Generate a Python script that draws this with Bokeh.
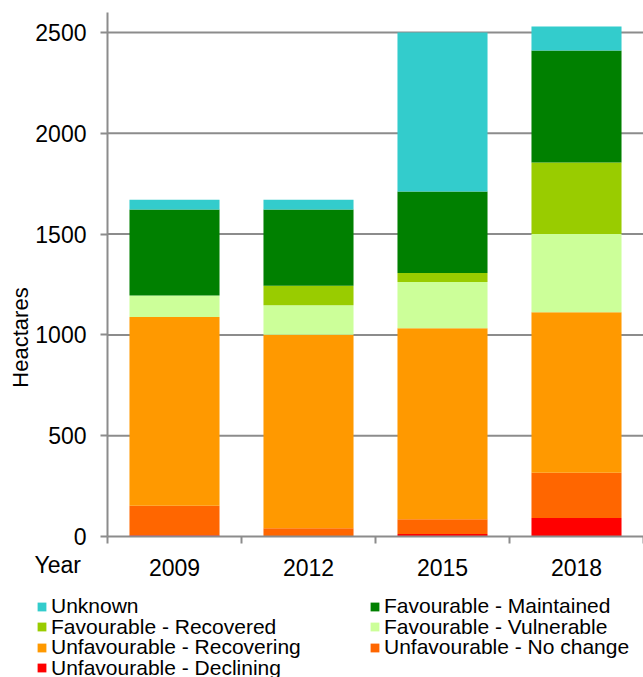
import math
from bokeh.plotting import figure
from bokeh.models import (ColumnDataSource, Range1d, FixedTicker, Legend, LegendItem, Label)
from bokeh.embed import file_html
from bokeh.resources import INLINE

# ---- data ----
years = ["2009", "2012", "2015", "2018"]
declining = [6, 0, 13, 92]
no_change = [146, 41, 73, 224]
recovering = [937, 960, 947, 796]
vulnerable = [106, 146, 230, 389]
recovered = [0, 97, 44, 354]
maintained = [427, 378, 404, 556]
unknown = [48, 48, 789, 119]
y_ticks = [0, 500, 1000, 1500, 2000, 2500]

series_keys = ["declining", "no_change", "recovering", "vulnerable", "recovered", "maintained", "unknown"]
series_names = ["Unfavourable - Declining", "Unfavourable - No change", "Unfavourable - Recovering",
                "Favourable - Vulnerable", "Favourable - Recovered", "Favourable - Maintained", "Unknown"]
colors = ["#FF0000", "#FF6600", "#FF9900", "#CCFF99", "#99CC00", "#008000", "#33CCCC"]

xpos = [i + 0.5 for i in range(len(years))]
source = ColumnDataSource(dict(x=xpos, declining=declining, no_change=no_change, recovering=recovering,
                               vulnerable=vulnerable, recovered=recovered, maintained=maintained,
                               unknown=unknown))

FONT = "Liberation Sans"
GRAY = "#8C8C8C"
W, H = 643, 677
AX_X, AX_Y = 107, 536          # screen position of the axes corner
CAT_PX = 134                   # pixels per category
Y_PX = 504 / 2500              # pixels per hectare

x_range = Range1d(-AX_X / CAT_PX, (W - AX_X) / CAT_PX)
y_range = Range1d(-(H - AX_Y) / Y_PX, AX_Y / Y_PX)

p = figure(width=W, height=H, output_backend="svg", toolbar_location=None,
           x_range=x_range, y_range=y_range,
           min_border_left=0, min_border_right=0, min_border_top=0, min_border_bottom=0)
p.outline_line_color = None
p.background_fill_color = "white"
p.xgrid.grid_line_color = None
p.ygrid.grid_line_color = None

# horizontal gridlines (from the tick list), under the bars
grid_y = y_ticks[1:]
p.segment(x0=[0] * len(grid_y), x1=[len(years)] * len(grid_y), y0=grid_y, y1=grid_y,
          line_color=GRAY, line_width=2)

renderers = p.vbar_stack(series_keys, x="x", width=0.672, color=colors, line_color=None, source=source)

# axes pinned at the data origin
p.xaxis.fixed_location = 0
p.xaxis.bounds = (0, len(years))
p.xaxis.ticker = FixedTicker(ticks=xpos, minor_ticks=list(range(len(years) + 1)))
p.xaxis.major_label_overrides = {x: y for x, y in zip(xpos, years)}
p.xaxis.major_tick_line_color = None
p.xaxis.minor_tick_line_color = GRAY
p.xaxis.minor_tick_line_width = 2
p.xaxis.minor_tick_out = 7
p.xaxis.minor_tick_in = 0
p.xaxis.major_label_standoff = 15
p.xaxis.axis_line_color = GRAY
p.xaxis.axis_line_width = 2
p.xaxis.major_label_text_font = FONT
p.xaxis.major_label_text_font_size = "23px"
p.xaxis.major_label_text_color = "black"

p.yaxis.fixed_location = 0
p.yaxis.bounds = (0, 2599)
p.yaxis.ticker = FixedTicker(ticks=y_ticks, minor_ticks=[])
p.yaxis.major_tick_line_color = GRAY
p.yaxis.major_tick_line_width = 2
p.yaxis.major_tick_out = 7
p.yaxis.major_tick_in = 0
p.yaxis.minor_tick_line_color = None
p.yaxis.major_label_standoff = 14
p.yaxis.axis_line_color = GRAY
p.yaxis.axis_line_width = 2
p.yaxis.major_label_text_font = FONT
p.yaxis.major_label_text_font_size = "23px"
p.yaxis.major_label_text_color = "black"

# axis titles (screen units, from the frame's bottom-left)
p.add_layout(Label(x=20, y=H - 337, x_units="screen", y_units="screen", text="Heactares",
                   angle=math.pi / 2, text_align="center", text_baseline="middle",
                   text_font=FONT, text_font_size="22px", text_color="black"))
p.add_layout(Label(x=34, y=H - 564, x_units="screen", y_units="screen", text="Year",
                   text_align="left", text_baseline="middle",
                   text_font=FONT, text_font_size="23px", text_color="black"))

# legend: two columns in Excel order, one entry per Legend for exact placement
by_name = dict(zip(series_names, renderers))
col1 = ["Unknown", "Favourable - Recovered", "Unfavourable - Recovering", "Unfavourable - Declining"]
col2 = ["Favourable - Maintained", "Favourable - Vulnerable", "Unfavourable - No change"]
ROW0, ROW_STEP, ITEM_H = 606, 20.5, 25
for cx, names in ((36, col1), (369, col2)):
    for r, n in enumerate(names):
        cy = ROW0 + ROW_STEP * r
        lg = Legend(items=[LegendItem(label=n, renderers=[by_name[n]])],
                    location=(cx, H - (cy + ITEM_H / 2)), orientation="vertical",
                    padding=0, margin=0, spacing=0,
                    glyph_width=11, glyph_height=11, label_standoff=4, label_height=ITEM_H,
                    border_line_color=None, background_fill_alpha=0,
                    label_text_font=FONT, label_text_font_size="21px", label_text_color="black")
        p.add_layout(lg)

open("out.html", "w").write(file_html(p, INLINE))
